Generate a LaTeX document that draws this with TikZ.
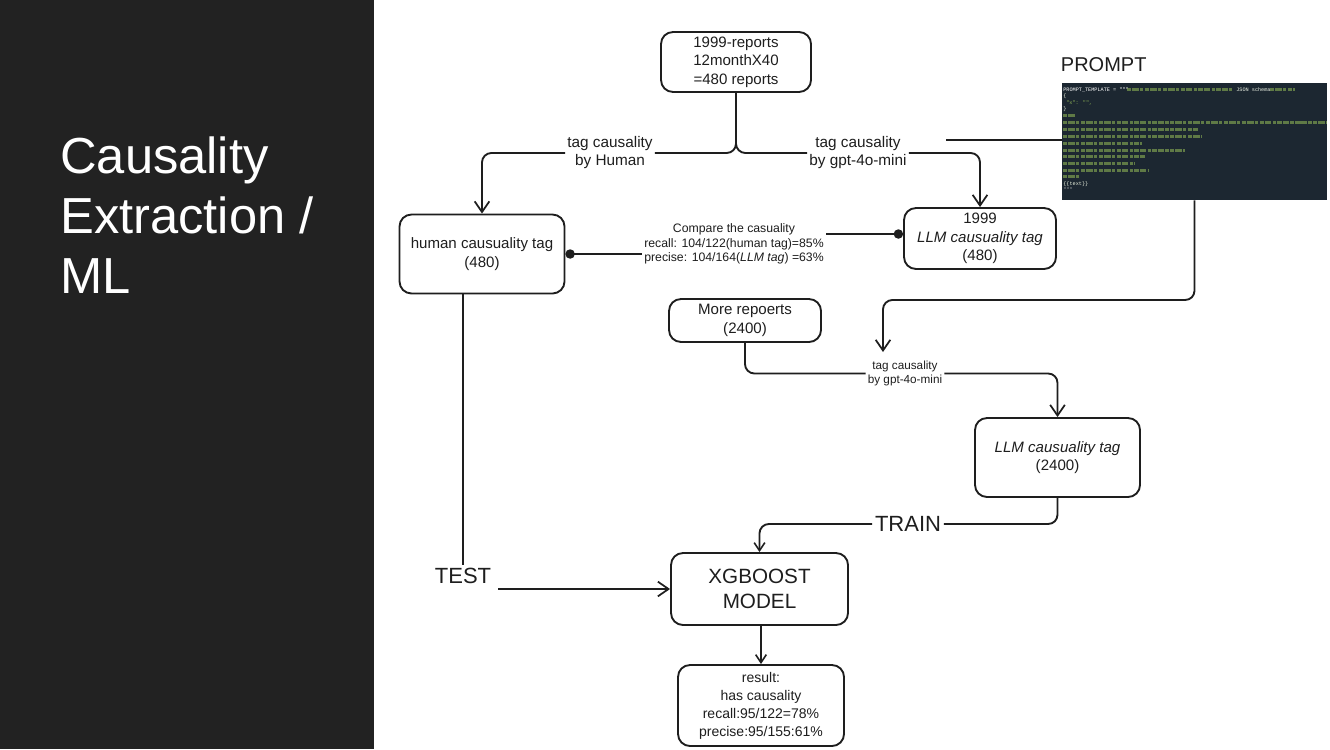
\documentclass[tikz,border=0pt]{standalone}
\usepackage{fontspec}
\setmainfont{Liberation Sans}
\newfontfamily\pmono{Liberation Mono}
\usetikzlibrary{arrows.meta}
\definecolor{panel}{HTML}{222222}
\definecolor{codebg}{HTML}{1C2731}
\definecolor{codegreen}{HTML}{8DB255}
\definecolor{ink}{HTML}{1E1E1E}
\tikzset{
  box/.style={draw=ink, line width=1.4pt, rounded corners=9pt, align=center, inner sep=0pt,
    font=\fontsize{11.3}{14}\selectfont, text=ink},
  lbl/.style={align=center, inner sep=1.5pt, font=\fontsize{11.5}{13.5}\selectfont, text=ink},
  slbl/.style={align=center, inner sep=1.5pt, font=\fontsize{8.8}{10}\selectfont, text=ink},
  clbl/.style={align=center, inner sep=1.5pt, font=\fontsize{9.2}{11}\selectfont, text=ink},
  big/.style={inner sep=2pt, font=\fontsize{16.5}{18.75}\selectfont, text=ink},
  conn/.style={draw=ink, line width=1.4pt, rounded corners=7pt},
  arr/.style={conn, -{Straight Barb[length=8pt, width=11pt, line width=1.3pt]}},
  sarr/.style={conn, -{Straight Barb[length=6pt, width=8pt, line width=1.2pt]}},
  dotline/.style={draw=ink, line width=1.5pt},
  codebar/.style={draw=codegreen, opacity=0.6, line width=2pt, dash pattern=on 3.2pt off 0.7pt on 5pt off 0.9pt on 2.4pt off 1.2pt},
  codetxt/.style={anchor=base west, inner sep=0pt, font=\pmono\fontsize{3.9}{4}\selectfont},
  title/.style={anchor=base west, inner sep=0pt, text=white, font=\fontsize{38}{45}\selectfont}
}
\begin{document}
\begin{tikzpicture}[x=0.75pt, y=-0.75pt]
\useasboundingbox (0,0) rectangle (1330,749);
\fill[white] (0,0) rectangle (1330,749);
\fill[panel] (0,0) rectangle (374,749);
\node[title] (t1) at (60,173) {Causality};
\node[title] (t2) at (60,233) {Extraction /};
\node[title] (t3) at (60,293) {ML};

% boxes
\node[box, minimum width=112.5pt, minimum height=45pt] (top) at (736,62) {1999-reports\\12monthX40\\=480 reports};
\node[box, minimum width=123.75pt, minimum height=59.25pt] (human) at (482,254) {human causuality tag\\(480)};
\node[box, minimum width=114pt, minimum height=45.75pt] (llm) at (980,238.5) {1999\\\textit{LLM causuality tag}\\(480)};
\node[box, minimum width=114pt, minimum height=32.25pt] (more) at (745,320.5) {More repoerts\\(2400)};
\node[box, minimum width=123.75pt, minimum height=59.25pt] (llmb) at (1057.5,457.5) {\textit{LLM causuality tag}\\(2400)};
\node[box, minimum width=132.75pt, minimum height=54pt, font=\fontsize{15.5}{18.75}\selectfont] (xgb) at (759.5,589) {XGBOOST\\MODEL};
\node[box, minimum width=124.5pt, minimum height=60.75pt, font=\fontsize{10.5}{13.5}\selectfont] (res) at (761,705.5) {result:\\has causality\\recall:95/122=78\%\\precise:95/155:61\%};

% labels
\node[lbl] (lh) at (610,153) {tag causality\\by Human};
\node[lbl] (lg) at (858,153) {tag causality\\by gpt-4o-mini};
\node[clbl] (lc) at (734,244) {Compare the casuality\\recall: 104/122(human tag)=85\%\\precise: 104/164(\textit{LLM tag}) =63\%};
\node[slbl] (ls) at (905,373.5) {tag causality\\by gpt-4o-mini};
\node[big] (tst) at (463,576) {TEST};
\node[big] (trn) at (908,524) {TRAIN};
\node[big, anchor=west, font=\fontsize{15}{18}\selectfont] (pr) at (1058,65) {PROMPT};

% prompt image
\node[fill=codebg, minimum width=198.75pt, minimum height=87.75pt, inner sep=0pt] (img) at (1194.5,141.5) {};
\node[codetxt, text=white] at (1063,91) {PROMPT\_TEMPLATE = """};
\draw[codebar] (1127,89.5) -- (1232,89.5);
\node[codetxt, text=white!85!codegreen] at (1236,91) {JSON schema};
\draw[codebar] (1270,89.5) -- (1295,89.5);
\node[codetxt, text=white!80!codegreen] at (1063,98) {\{};
\node[codetxt, text=codegreen] at (1066,104.5) {"x": "",};
\node[codetxt, text=white!80!codegreen] at (1063,110.5) {\}};
\draw[codebar] (1063,115.5) -- (1075,115.5);
\draw[codebar] (1063,122.5) -- (1327,122.5);
\draw[codebar] (1063,129.5) -- (1198,129.5);
\draw[codebar] (1063,136.5) -- (1202,136.5);
\draw[codebar] (1063,143.5) -- (1142,143.5);
\draw[codebar] (1063,150.5) -- (1185,150.5);
\draw[codebar] (1063,156.5) -- (1145,156.5);
\draw[codebar] (1063,163.5) -- (1135,163.5);
\draw[codebar] (1063,170.5) -- (1148,170.5);
\draw[codebar] (1063,176.5) -- (1080,176.5);
\node[codetxt, text=white!80!codegreen] at (1063,185) {\{\{text\}\}};
\node[codetxt, text=white!60!codebg] at (1063,191) {"""};

% connectors
\coordinate (pend) at (946,140);
\coordinate (turn) at (0,300);
\coordinate (ptip) at (883,352);
\coordinate (cy) at (0,234);
\draw[conn] (top.south) |- (lh.east);
\draw[conn] (top.south) |- (lg.west);
\draw[arr] (lh.west) -| (human.north);
\draw[arr] (lg.east) -| (llm.north);
\draw[conn, rounded corners=0pt] (pend) -- (pend -| img.west);
\draw[arr] (img.south) -- (img.south |- turn) -| (ptip);
\draw[dotline, {Circle[length=7pt]}-] (human.east) -- (human.east -| lc.west);
\draw[dotline, -{Circle[length=7pt]}] (lc.east |- cy) -- (llm.west |- cy);
\draw[conn] (more.south) |- (ls.west);
\draw[arr] (ls.east) -| (llmb.north);
\draw[conn] (tst.north |- human.south) -- (tst.north);
\draw[arr] ([xshift=3pt]tst.east |- xgb.west) -- (xgb.west);
\draw[conn] (llmb.south) |- (trn.east);
\draw[sarr] (trn.west) -| (xgb.north);
\draw[sarr] (res.north |- xgb.south) -- (res.north);
\end{tikzpicture}
\end{document}
